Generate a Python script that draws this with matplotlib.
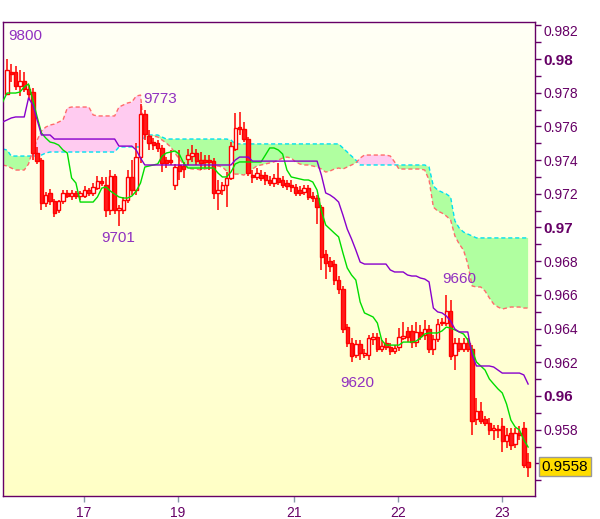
import numpy as np
import matplotlib
matplotlib.use("Agg")
import matplotlib.pyplot as plt
from matplotlib.colors import LinearSegmentedColormap

plt.rcParams["font.family"] = ["Liberation Sans", "DejaVu Sans"]

# hourly candles, prices in pips (price * 10000)
opens = [
    9779.2, 9792.3, 9792.3, 9784.0, 9786.9, 9782.2, 9780.4, 9744.2, 9740.0, 9714.5,
    9720.5, 9715.7, 9710.4, 9715.7, 9720.5, 9718.7, 9720.5, 9718.7, 9718.7, 9722.2,
    9720.5, 9723.4, 9727.6, 9725.2, 9710.4, 9730.5, 9710.4, 9710.4, 9716.3, 9730.0,
    9722.2, 9741.8, 9767.3, 9754.3, 9750.7, 9750.1, 9747.2, 9740.0, 9740.0, 9725.2,
    9737.1, 9736.5, 9740.6, 9742.4, 9744.2, 9740.0, 9740.0, 9740.0, 9739.4, 9720.5,
    9722.2, 9725.2, 9729.4, 9746.6, 9759.6, 9758.4, 9752.5, 9731.1, 9730.0, 9731.1,
    9731.1, 9728.2, 9726.4, 9729.4, 9728.2, 9726.4, 9725.2, 9724.0, 9722.2, 9721.0,
    9723.4, 9718.7, 9717.5, 9712.1, 9684.3, 9680.1, 9678.3, 9668.8, 9663.5, 9640.9,
    9631.4, 9624.3, 9630.8, 9624.3, 9624.3, 9633.8, 9635.0, 9627.9, 9631.4, 9629.1,
    9626.7, 9629.1, 9634.4, 9638.6, 9638.6, 9632.0, 9638.0, 9636.2, 9639.7, 9627.9,
    9633.8, 9643.3, 9643.3, 9650.4, 9624.3, 9631.4, 9627.9, 9631.4, 9627.9, 9586.3,
    9591.1, 9586.3, 9584.0, 9579.8, 9580.4, 9582.2, 9573.3, 9578.0, 9571.5, 9578.0,
    9581.0, 9561.0,
]
highs = [
    9800.0, 9797.0, 9795.8, 9793.5, 9792.3, 9784.6, 9782.8, 9747.8, 9741.2, 9721.0,
    9722.8, 9716.9, 9716.3, 9722.2, 9722.2, 9722.2, 9721.6, 9721.6, 9724.6, 9723.4,
    9726.4, 9730.5, 9730.0, 9730.0, 9734.1, 9731.7, 9713.3, 9718.1, 9734.1, 9740.0,
    9750.1, 9773.0, 9769.7, 9757.8, 9753.1, 9751.9, 9748.9, 9741.8, 9746.0, 9737.7,
    9746.0, 9738.9, 9746.6, 9748.9, 9746.6, 9744.8, 9743.0, 9743.0, 9741.2, 9728.2,
    9727.0, 9732.9, 9750.7, 9767.9, 9768.5, 9762.6, 9753.7, 9734.1, 9735.3, 9734.1,
    9732.9, 9730.5, 9731.7, 9738.3, 9730.5, 9728.2, 9728.2, 9725.8, 9724.6, 9725.2,
    9725.2, 9721.0, 9719.3, 9713.3, 9686.6, 9682.5, 9680.7, 9671.2, 9665.3, 9642.7,
    9634.4, 9633.2, 9633.2, 9627.9, 9636.2, 9637.4, 9637.4, 9633.2, 9634.4, 9631.4,
    9630.2, 9640.3, 9643.9, 9640.9, 9642.1, 9643.9, 9642.1, 9645.1, 9642.1, 9636.2,
    9645.7, 9646.3, 9660.0, 9657.0, 9634.4, 9634.4, 9634.4, 9634.4, 9630.2, 9598.8,
    9596.4, 9588.1, 9586.9, 9582.8, 9582.8, 9586.9, 9581.0, 9581.0, 9581.0, 9582.2,
    9584.5, 9566.1,
]
lows = [
    9778.6, 9786.3, 9781.6, 9778.0, 9780.4, 9776.2, 9740.0, 9737.7, 9710.4, 9712.1,
    9713.3, 9706.2, 9708.6, 9713.9, 9717.5, 9716.3, 9716.9, 9716.3, 9717.5, 9718.7,
    9718.7, 9722.2, 9724.6, 9706.2, 9707.4, 9708.0, 9701.0, 9708.0, 9714.5, 9719.3,
    9719.3, 9738.3, 9751.9, 9746.0, 9746.0, 9744.8, 9732.9, 9735.3, 9737.1, 9722.2,
    9728.2, 9729.4, 9737.1, 9738.9, 9737.1, 9734.1, 9735.3, 9734.1, 9716.9, 9710.4,
    9719.3, 9712.1, 9728.2, 9745.4, 9754.9, 9750.7, 9730.5, 9726.4, 9728.2, 9727.6,
    9725.2, 9724.6, 9724.0, 9725.2, 9723.4, 9722.2, 9721.0, 9718.7, 9718.7, 9719.3,
    9716.3, 9715.1, 9702.1, 9674.8, 9669.4, 9673.6, 9665.9, 9660.5, 9637.4, 9629.1,
    9620.0, 9622.5, 9621.3, 9622.5, 9621.3, 9630.2, 9626.1, 9626.1, 9627.3, 9624.3,
    9624.9, 9626.7, 9633.2, 9632.0, 9628.5, 9629.1, 9633.2, 9633.2, 9625.5, 9624.3,
    9632.0, 9641.5, 9641.5, 9621.3, 9615.4, 9626.1, 9626.1, 9626.1, 9576.8, 9582.8,
    9583.4, 9582.2, 9576.8, 9573.9, 9575.1, 9566.7, 9569.1, 9567.9, 9569.1, 9573.9,
    9557.2, 9551.9,
]
closes = [
    9793.5, 9791.1, 9784.0, 9786.9, 9782.2, 9779.2, 9744.2, 9739.4, 9714.5, 9719.3,
    9715.7, 9708.6, 9715.7, 9720.5, 9718.7, 9720.5, 9718.7, 9720.5, 9722.2, 9720.5,
    9724.0, 9727.6, 9726.4, 9710.4, 9730.5, 9710.4, 9711.6, 9716.3, 9730.0, 9722.2,
    9741.8, 9767.3, 9755.5, 9750.1, 9748.9, 9747.2, 9738.3, 9738.3, 9738.9, 9735.9,
    9733.5, 9734.7, 9743.0, 9744.2, 9739.4, 9738.3, 9738.9, 9738.9, 9720.5, 9722.2,
    9725.2, 9729.4, 9748.3, 9759.0, 9758.4, 9752.5, 9732.3, 9730.0, 9732.3, 9729.4,
    9728.2, 9726.4, 9729.4, 9727.0, 9725.2, 9724.6, 9724.0, 9720.5, 9720.5, 9723.4,
    9718.1, 9717.5, 9712.1, 9682.5, 9678.9, 9677.1, 9668.8, 9663.5, 9639.7, 9631.4,
    9623.7, 9630.8, 9625.5, 9625.5, 9634.4, 9635.0, 9627.9, 9629.6, 9629.1, 9626.7,
    9628.5, 9635.0, 9635.6, 9635.0, 9632.0, 9638.0, 9635.6, 9639.7, 9627.9, 9633.8,
    9642.7, 9643.9, 9650.4, 9623.7, 9631.4, 9627.9, 9631.4, 9627.9, 9585.1, 9591.1,
    9585.1, 9584.0, 9579.8, 9581.0, 9579.8, 9573.3, 9576.8, 9570.9, 9578.0, 9576.8,
    9559.0, 9558.0,
]

# ichimoku lines, one value per candle starting one candle before the first
tenkan = [
    9774.5, 9779.8, 9779.8, 9779.8, 9780.4, 9783.4, 9785.2, 9775.7, 9765.6, 9756.1,
    9753.1, 9750.7, 9750.1, 9748.9, 9746.0, 9744.2, 9729.4, 9726.4, 9715.1, 9715.1,
    9715.1, 9715.1, 9718.1, 9723.4, 9724.0, 9721.6, 9719.9, 9718.1, 9717.5, 9717.5,
    9718.7, 9721.6, 9726.4, 9735.9, 9736.5, 9737.1, 9737.7, 9742.4, 9744.2, 9744.8,
    9745.4, 9743.6, 9738.3, 9735.3, 9735.3, 9735.3, 9735.3, 9735.3, 9735.3, 9735.3,
    9732.3, 9730.0, 9730.0, 9732.9, 9737.7, 9738.9, 9738.9, 9738.9, 9738.9, 9738.9,
    9738.9, 9743.0, 9747.2, 9747.2, 9746.0, 9743.6, 9734.1, 9730.0, 9729.4, 9728.8,
    9728.2, 9728.2, 9727.0, 9722.2, 9709.8, 9701.5, 9699.1, 9696.7, 9694.4, 9684.9,
    9676.0, 9671.8, 9668.8, 9655.8, 9649.3, 9648.1, 9646.9, 9643.3, 9633.2, 9630.2,
    9630.2, 9630.2, 9630.2, 9632.0, 9632.0, 9632.0, 9632.6, 9634.4, 9636.8, 9637.4,
    9637.4, 9637.4, 9638.6, 9640.9, 9640.3, 9639.2, 9638.0, 9636.8, 9633.2, 9627.3,
    9620.2, 9617.8, 9615.4, 9610.1, 9607.1, 9604.2, 9601.8, 9595.2, 9585.7, 9581.6,
    9579.8, 9573.9, 9569.7,
]
kijun = [
    9762.6, 9763.8, 9765.0, 9765.6, 9765.6, 9765.6, 9776.9, 9772.7, 9763.8, 9754.9,
    9754.9, 9754.9, 9752.5, 9752.5, 9752.5, 9752.5, 9752.5, 9752.5, 9752.5, 9752.5,
    9752.5, 9752.5, 9752.5, 9752.5, 9752.5, 9752.5, 9752.5, 9748.3, 9748.3, 9748.3,
    9748.3, 9746.0, 9741.2, 9737.1, 9737.1, 9737.1, 9737.1, 9737.1, 9737.1, 9737.1,
    9737.1, 9737.1, 9737.1, 9737.1, 9737.1, 9737.1, 9737.1, 9737.1, 9737.1, 9737.1,
    9737.1, 9737.1, 9737.1, 9737.1, 9740.0, 9741.8, 9741.8, 9741.8, 9739.4, 9739.4,
    9739.4, 9739.4, 9739.4, 9739.4, 9739.4, 9739.4, 9739.4, 9739.4, 9739.4, 9739.4,
    9739.4, 9739.4, 9739.4, 9739.4, 9731.1, 9720.5, 9719.3, 9717.5, 9715.1, 9707.4,
    9699.1, 9693.2, 9686.6, 9679.5, 9678.3, 9678.3, 9678.3, 9678.3, 9678.3, 9678.3,
    9674.8, 9673.6, 9673.6, 9673.6, 9671.8, 9671.2, 9671.2, 9670.0, 9669.4, 9667.7,
    9652.2, 9649.9, 9649.3, 9647.5, 9644.5, 9639.7, 9638.0, 9638.0, 9638.0, 9624.3,
    9617.8, 9617.8, 9617.8, 9617.8, 9617.2, 9615.4, 9613.6, 9613.6, 9613.6, 9613.6,
    9613.6, 9612.5, 9607.1,
]
senkou_a = [
    9746.6, 9746.0, 9742.4, 9742.4, 9742.4, 9742.4, 9742.4, 9742.4, 9742.4, 9743.0,
    9744.2, 9744.8, 9744.8, 9744.8, 9744.8, 9744.8, 9744.8, 9744.8, 9744.8, 9744.8,
    9744.8, 9744.8, 9744.8, 9744.8, 9744.8, 9744.8, 9744.8, 9747.8, 9747.8, 9747.8,
    9747.8, 9747.8, 9747.8, 9754.3, 9754.9, 9754.9, 9754.9, 9753.7, 9752.5, 9752.5,
    9752.5, 9752.5, 9752.5, 9752.5, 9752.5, 9752.5, 9752.5, 9752.5, 9752.5, 9752.5,
    9752.5, 9752.5, 9752.5, 9751.9, 9749.6, 9749.6, 9749.6, 9749.6, 9749.6, 9749.6,
    9749.6, 9749.6, 9749.6, 9749.6, 9749.6, 9749.6, 9749.6, 9749.6, 9749.6, 9749.6,
    9749.6, 9749.6, 9749.6, 9749.6, 9749.6, 9749.6, 9749.6, 9749.6, 9749.6, 9747.2,
    9744.8, 9742.4, 9740.0, 9737.1, 9737.1, 9737.1, 9737.1, 9737.1, 9737.1, 9737.1,
    9737.1, 9737.1, 9737.1, 9737.1, 9737.1, 9737.1, 9737.1, 9737.1, 9737.1, 9735.9,
    9724.6, 9722.2, 9721.0, 9719.9, 9718.1, 9703.9, 9699.7, 9697.3, 9696.1, 9695.0,
    9693.8, 9693.8, 9693.8, 9693.8, 9693.8, 9693.8, 9693.8, 9693.8, 9693.8, 9693.8,
    9693.8, 9693.8, 9693.8,
]
senkou_b = [
    9737.1, 9736.5, 9735.3, 9734.1, 9734.1, 9734.1, 9737.7, 9746.0, 9751.9, 9757.2,
    9759.6, 9760.8, 9761.4, 9762.6, 9763.8, 9770.9, 9771.5, 9771.5, 9771.5, 9771.5,
    9771.5, 9766.8, 9766.2, 9766.2, 9766.2, 9766.2, 9766.2, 9771.5, 9772.7, 9773.9,
    9774.5, 9778.0, 9778.6, 9753.7, 9754.3, 9754.3, 9753.7, 9751.9, 9750.1, 9747.8,
    9744.2, 9740.6, 9737.7, 9735.3, 9734.7, 9734.7, 9734.1, 9734.7, 9735.3, 9735.9,
    9736.5, 9735.9, 9733.5, 9731.1, 9731.7, 9731.7, 9731.1, 9732.9, 9734.7, 9736.5,
    9737.1, 9737.7, 9738.3, 9738.9, 9740.0, 9741.2, 9741.8, 9741.2, 9738.9, 9737.7,
    9737.1, 9737.1, 9736.5, 9735.9, 9734.7, 9732.9, 9733.5, 9734.7, 9735.3, 9734.7,
    9735.9, 9737.1, 9738.3, 9741.2, 9743.0, 9743.0, 9743.0, 9743.0, 9743.0, 9743.0,
    9742.4, 9738.9, 9734.7, 9734.7, 9734.7, 9734.7, 9734.7, 9734.7, 9734.1, 9728.2,
    9712.1, 9709.8, 9708.6, 9706.8, 9704.5, 9695.0, 9690.2, 9686.6, 9678.3, 9665.3,
    9664.7, 9664.7, 9662.3, 9658.2, 9654.6, 9652.8, 9651.6, 9652.2, 9652.8, 9652.8,
    9652.8, 9652.2, 9652.2,
]

# day labels at the candle where each day starts
day_labels = ["17", "19", "21", "22", "23"]
day_ticks = [17.9, 39.7, 66.6, 90.8, 114.9]

# swing points marked with their price in pips
swing_idx = [0, 31, 26, 80, 102]
swing_kind = ["high", "high", "low", "low", "high"]

RED = "#ff0000"
PURPLE = "#660066"

o = np.array(opens) / 1e4
h = np.array(highs) / 1e4
l = np.array(lows) / 1e4
c = np.array(closes) / 1e4
x = np.arange(len(o))

fig = plt.figure(figsize=(6, 5.19), dpi=100)
ax = fig.add_axes([3 / 600, 1 - 496 / 519, 532 / 600, 474 / 519])

# pale yellow gradient background
bg = LinearSegmentedColormap.from_list("bg", ["#fffff6", "#ffffc6"])
ax.imshow(np.linspace(0, 1, 256).reshape(-1, 1), cmap=bg, extent=[0, 1, 0, 1],
          transform=ax.transAxes, aspect="auto", zorder=0)

# cloud
sa = np.array(senkou_a) / 1e4
sb = np.array(senkou_b) / 1e4
xc = np.arange(len(sa)) - 1
ax.fill_between(xc, sa, sb, where=sa >= sb, interpolate=True,
                color="#b0ffa0", lw=0, zorder=1)
ax.fill_between(xc, sa, sb, where=sa < sb, interpolate=True,
                color="#ffcbf0", lw=0, zorder=1)
ax.plot(xc, sa, color="#00e0f0", lw=1, ls=(0, (3, 2)), zorder=2)
ax.plot(np.arange(len(sb)) - 1, sb, color="#ff6b6b", lw=1, ls=(0, (3, 2)), zorder=2)

# candles
up = c >= o
ax.vlines(x, l, h, color=RED, lw=1.1, zorder=4)
body_lo = np.minimum(o, c)
body_h = np.maximum(np.abs(c - o), 0.00002)
ax.bar(x[up], body_h[up], bottom=body_lo[up], width=0.8, facecolor="white",
       edgecolor=RED, lw=1, zorder=5)
ax.bar(x[~up], body_h[~up], bottom=body_lo[~up], width=0.8, facecolor="#ff1c1c",
       edgecolor=RED, lw=1, zorder=5)

# tenkan / kijun
ax.plot(np.arange(len(tenkan)) - 1, np.array(tenkan) / 1e4, color="#00dd00", lw=1, zorder=6)
ax.plot(np.arange(len(kijun)) - 1, np.array(kijun) / 1e4, color="#8800cc", lw=1, zorder=6)

# swing labels
offsets = [(0.7, 16.6, "left"), (1.8, 4.3, "left"), (-0.7, -8.6, "center"),
           (4.0, -15.0, "center"), (9.4, 11.5, "center")]
for i, kind, (dx, dy, ha) in zip(swing_idx, swing_kind, offsets):
    val = highs[i] if kind == "high" else lows[i]
    ax.annotate(f"{val:.0f}", xy=(i, val / 1e4), xytext=(dx, dy),
                textcoords="offset points", ha=ha, va="center",
                fontsize=11, color="#9030c0", zorder=7)

# current price box
ax.annotate(f"{c[-1]:.4f}", xy=(1, c[-1]), xycoords=("axes fraction", "data"),
            xytext=(4.5, 0), textcoords="offset points", ha="left", va="center",
            fontsize=11, color="black", annotation_clip=False,
            bbox=dict(boxstyle="square,pad=0.18", fc="#ffdd00", ec="#999999", lw=1))

ax.set_xlim(-0.93, 122.6)
ax.set_ylim(0.954064, 0.982196)

# right price axis
yt = np.round(np.arange(0.956, 0.9825, 0.002), 3)
ylabels = [f"{v:g}" for v in yt]
ylabels[0] = ""
ax.set_yticks(yt)
ax.set_yticklabels(ylabels)
ax.set_yticks(np.round(np.arange(0.955, 0.9825, 0.001), 3), minor=True)
ax.yaxis.tick_right()
ax.tick_params(axis="y", which="both", direction="out", length=4, width=1,
               color=PURPLE, labelcolor=PURPLE, labelsize=10, pad=2)
for t, s in zip(ax.get_yticklabels(), ylabels):
    if len(s) == 4:
        t.set_fontweight("bold")
        t.set_fontsize(11)
    if s == "0.982":
        t.set_verticalalignment("top")

ax.set_xticks(day_ticks)
ax.set_xticklabels(day_labels)
ax.tick_params(axis="x", direction="out", length=4, width=1, color="#8899aa",
               labelcolor=PURPLE, labelsize=10, pad=3)

for sp in ax.spines.values():
    sp.set_color(PURPLE)
    sp.set_linewidth(1)

fig.savefig("out.png", dpi=100)
